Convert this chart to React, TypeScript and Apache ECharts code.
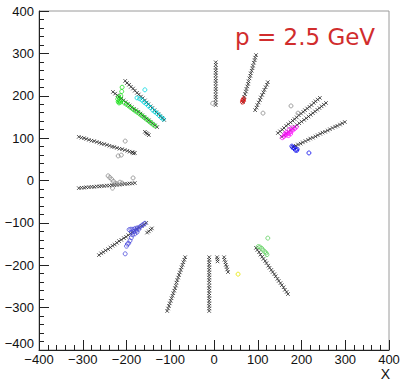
import React, { useEffect, useRef } from "react";
import * as echarts from "echarts";

// ---- Data ----
const xTicks = [-400, -300, -200, -100, 0, 100, 200, 300, 400];
const yTicks = [-400, -300, -200, -100, 0, 100, 200, 300, 400];
const titleText = "p = 2.5 GeV";
const axisTitle = "X";

// black "x" hit markers, one array per track
const trackA = [[-203,235],[-199,230],[-194,226],[-190,221],[-185,217],[-181,212],[-176,207],[-172,203],[-167,198],[-163,194],[-158,189],[-154,184],[-150,180],[-145,175],[-141,171],[-136,166],[-132,161],[-127,157],[-123,152],[-118,148],[-114,143]];
const trackB = [[-231,209],[-226,205],[-221,201],[-217,197],[-212,193],[-207,189],[-202,185],[-197,181],[-193,177],[-188,173],[-183,169],[-178,166],[-173,162],[-168,158],[-164,154],[-159,150],[-154,146],[-149,142],[-145,138],[-140,134],[-135,130],[-130,126]];
const trackC = [[-158,115],[-155,112],[-152,110],[-149,107]];
const trackD = [[-309,103],[-303,101],[-297,100],[-292,98],[-286,96],[-280,94],[-274,93],[-268,91],[-262,89],[-257,87],[-251,86],[-245,84],[-239,82],[-233,80],[-228,79],[-222,77],[-216,75],[-210,74],[-204,72],[-198,70],[-193,68],[-187,67],[-181,65],[-184,64],[-186,66]];
const trackE = [[-309,-18],[-303,-17],[-297,-17],[-292,-16],[-286,-16],[-280,-15],[-274,-15],[-268,-14],[-262,-14],[-257,-13],[-251,-13],[-245,-12],[-239,-12],[-233,-11],[-228,-11],[-222,-10],[-216,-10],[-210,-9],[-204,-8],[-198,-8],[-193,-7],[-187,-7],[-181,-6]];
const trackF = [[-263,-176],[-258,-172],[-253,-169],[-248,-165],[-242,-162],[-237,-158],[-232,-154],[-227,-151],[-222,-147],[-217,-143],[-212,-140],[-206,-136],[-201,-133],[-196,-129],[-191,-125],[-186,-122],[-181,-118],[-176,-114],[-171,-111],[-165,-107],[-160,-104],[-155,-100]];
const trackF2 = [[-153,-123],[-149,-120],[-145,-116],[-142,-113]];
const trackG = [[-107,-308],[-105,-302],[-103,-296],[-101,-290],[-99,-284],[-97,-278],[-95,-272],[-93,-266],[-91,-260],[-89,-254],[-87,-248],[-86,-241],[-84,-235],[-82,-229],[-80,-223],[-78,-217],[-76,-211],[-74,-205],[-72,-199],[-70,-193],[-68,-187],[-66,-181]];
const trackH = [[-11,-181],[-11,-187],[-11,-193],[-11,-199],[-11,-205],[-11,-211],[-11,-217],[-11,-223],[-11,-229],[-11,-235],[-11,-241],[-11,-248],[-11,-254],[-11,-260],[-11,-266],[-11,-272],[-11,-278],[-11,-284],[-11,-290],[-11,-296],[-11,-302],[-11,-308]];
const trackI = [[7,-181],[8,-186],[8,-191]];
const trackJ = [[23,-181],[24,-187],[26,-193],[27,-199],[29,-204],[30,-210],[32,-216]];
const trackK = [[96,-159],[99,-164],[103,-169],[106,-175],[110,-180],[113,-185],[117,-190],[120,-195],[124,-201],[127,-206],[131,-211],[134,-216],[138,-221],[141,-226],[145,-232],[148,-237],[152,-242],[155,-247],[159,-252],[162,-258],[166,-263],[169,-268]];
const trackL = [[4,178],[4,184],[4,191],[4,197],[4,203],[4,210],[4,216],[4,222],[4,229],[4,235],[4,241],[4,248],[4,254],[4,260],[4,266],[4,273],[4,279]];
const trackM = [[66,185],[68,191],[69,197],[71,204],[73,210],[74,216],[76,222],[78,228],[79,234],[81,241],[83,247],[84,253],[86,259],[88,265],[89,271],[91,278],[93,284],[94,290],[96,296]];
const trackN = [[94,166],[97,172],[99,178],[102,184],[105,190],[107,196],[110,202],[113,208],[115,214],[118,220],[121,226],[123,232]];
const trackO = [[146,112],[151,116],[156,120],[160,124],[165,129],[170,133],[175,137],[180,141],[184,145],[189,149],[194,154],[199,158],[204,162],[208,166],[213,170],[218,174],[223,178],[228,183],[232,187],[237,191],[242,195]];
const trackP = [[155,103],[160,107],[165,111],[170,115],[175,119],[180,123],[185,127],[190,131],[195,135],[200,139],[206,143],[211,147],[216,151],[221,155],[226,159],[231,163],[236,167],[241,171],[246,175],[251,179],[256,183]];
const trackQ = [[181,79],[187,82],[192,85],[198,87],[203,90],[209,93],[215,96],[220,99],[226,101],[232,104],[237,107],[243,110],[248,113],[254,115],[260,118],[265,121],[271,124],[277,127],[282,129],[288,132],[293,135],[299,138]];

// coloured open circles
const cyanHits = [[-158,214],[-176,195],[-170,193],[-165,190],[-160,185],[-155,181],[-150,176],[-145,172],[-140,166],[-135,162],[-130,158],[-125,153],[-120,148],[-116,145]];
const greenHits = [[-210,220],[-211,210],[-213,200],[-218,197],[-220,192],[-216,188],[-214,185],[-219,186],[-212,190],[-217,183],[-205,183],[-200,180],[-195,176],[-190,172],[-185,168],[-180,164],[-175,161],[-170,157],[-165,153],[-160,149],[-155,145],[-150,141],[-145,137],[-140,133],[-135,129]];
const greyHits = [[-203,93],[-219,58],[-212,60],[-242,11],[-238,7],[-234,3],[-230,-2],[-226,-6],[-222,-8],[-232,-18],[-185,6],[-215,-4],[-210,-6],[-3,182],[112,159],[176,176],[192,159]];
const blueLowHits = [[-158,-101],[-162,-104],[-166,-107],[-170,-110],[-175,-112],[-180,-113],[-185,-115],[-190,-115],[-194,-116],[-178,-118],[-183,-120],[-188,-122],[-186,-128],[-189,-135],[-192,-142],[-195,-148],[-198,-150],[-200,-155],[-203,-173],[-176,-122],[-181,-126],[-172,-115]];
const lightGreenHits = [[101,-156],[105,-157],[109,-160],[112,-164],[116,-168],[119,-171],[121,-175],[123,-136]];
const yellowHits = [[55,-221]];
const redHits = [[66,190],[67,188],[65,185],[68,193]];
const magentaHits = [[156,101],[160,104],[164,107],[168,110],[172,112],[176,116],[180,119],[184,122],[188,126],[165,113],[170,106],[175,110],[162,110],[178,124],[172,120]];
const blueHits = [[178,81],[180,78],[183,77],[186,72],[189,71],[190,74],[217,65]];

const tracks = [trackA, trackB, trackC, trackD, trackE, trackF, trackF2, trackG, trackH, trackI, trackJ, trackK, trackL, trackM, trackN, trackO, trackP, trackQ];

const FONT = "'Liberation Sans', Arial, sans-serif";
const fmt = (v: number) => String(v).replace("-", "\u2212");

export default function App() {
  const ref = useRef<HTMLDivElement>(null);
  useEffect(() => {
    if (!ref.current) return;
    const chart = echarts.init(ref.current, undefined, { renderer: "svg" });
    const circle = (data: number[][], color: string) => ({
      type: "scatter",
      data,
      symbol: "circle",
      symbolSize: 4,
      itemStyle: { color: "rgba(0,0,0,0)", borderColor: color, borderWidth: 1 },
      silent: true,
    });
    const axisCommon = {
      min: -400,
      max: 400,
      interval: 100,
      axisLine: { show: true, onZero: false, lineStyle: { color: "#222", width: 1 } },
      axisTick: { show: true, inside: true, length: 10, lineStyle: { color: "#222" } },
      minorTick: { show: true, splitNumber: 5, length: 5, lineStyle: { color: "#222" } },
      splitLine: { show: false },
      axisLabel: { fontFamily: FONT, fontSize: 13, color: "#111", formatter: fmt },
    };
    chart.setOption({
      animation: false,
      backgroundColor: "#ffffff",
      grid: { left: 39, top: 11, width: 350, height: 339, show: true, borderColor: "#9a9a9a", borderWidth: 1, backgroundColor: "transparent" },
      xAxis: { type: "value", ...axisCommon, axisLabel: { ...axisCommon.axisLabel, margin: 3, customValues: xTicks } },
      yAxis: { type: "value", ...axisCommon, axisLabel: { ...axisCommon.axisLabel, margin: 5, customValues: yTicks, verticalAlignMinLabel: "bottom" } },
      graphic: [
        { type: "text", left: 235, top: 25, style: { text: titleText, fontFamily: "'DejaVu Sans', sans-serif", fontSize: 23, fill: "#d12d2d" } },
        { type: "text", right: 14, top: 367, style: { text: axisTitle, fontFamily: FONT, fontSize: 14, fill: "#111" } },
      ],
      series: [
        ...tracks.map((t) => ({
          type: "scatter",
          data: t,
          symbol: "path://M0,0L10,10M10,0L0,10",
          symbolSize: 3.5,
          itemStyle: { color: "rgba(0,0,0,0)", borderColor: "#2a2a2a", borderWidth: 1 },
          silent: true,
        })),
        circle(greyHits, "#8c8c8c"),
        circle(cyanHits, "#00d8e0"),
        circle(greenHits, "#19e019"),
        circle(blueLowHits, "#4a4adc"),
        circle(lightGreenHits, "#5fcf5f"),
        circle(yellowHits, "#e6e600"),
        circle(redHits, "#e01010"),
        circle(magentaHits, "#ff10ff"),
        circle(blueHits, "#0a0aee"),
      ],
    });
    return () => chart.dispose();
  }, []);
  return <div ref={ref} style={{ position: "fixed", left: 0, top: 0, width: 404, height: 381 }} />;
}
